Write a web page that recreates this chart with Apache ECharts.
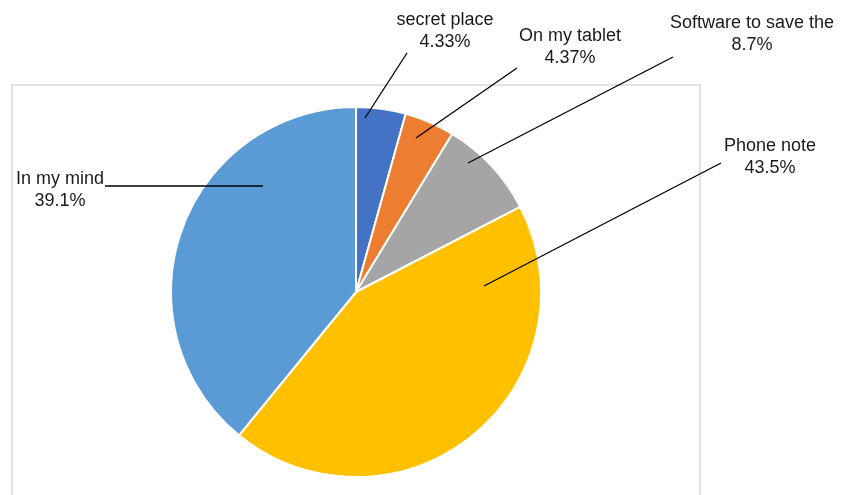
<!DOCTYPE html>
<html>
<head>
<meta charset="utf-8">
<script src="https://cdn.jsdelivr.net/npm/echarts@6/dist/echarts.min.js"></script>
<style>
  html, body { margin: 0; padding: 0; background: #fff; }
  #chart { width: 841px; height: 495px; }
</style>
</head>
<body>
<div id="chart"></div>
<script>
// 数据
var categories = ['secret place', 'On my tablet', 'Software to save the', 'Phone note', 'In my mind'];
var shares = [4.33, 4.37, 8.7, 43.5, 39.1];
var colors = ['#4472C4', '#ED7D31', '#A5A5A5', '#FFC000', '#5B9BD5'];

// 标签位置 (label center x/y) 和引导线端点
var labelPos = [[445, 31], [570, 47], [752, 34], [770, 157], [60, 190]];
var lineInner = [[365, 118], [416, 138], [468, 163], [484, 286], [263, 186]];
var lineOuter = [[407, 53], [517, 68], [673, 57], [721, 163], [105, 186]];

var myChart = echarts.init(document.getElementById('chart'));

var pieData = categories.map(function (name, i) {
    return { name: name, value: shares[i], itemStyle: { color: colors[i] } };
});
var labelData = categories.map(function (name, i) {
    return { name: name, value: shares[i] };
});

var option = {
    backgroundColor: '#fff',
    animation: false,
    graphic: [{
        type: 'rect',
        z: -10,
        shape: { x: 12, y: 85, width: 688, height: 430 },
        style: { fill: 'none', stroke: '#D9D9D9', lineWidth: 1.5 }
    }],
    series: [{
        // 扇区
        type: 'pie',
        z: 2,
        center: [356, 292],
        radius: 185,
        startAngle: 90,
        clockwise: true,
        itemStyle: { borderColor: '#fff', borderWidth: 2 },
        label: { show: false },
        labelLine: { show: false },
        emphasis: { disabled: true },
        data: pieData
    }, {
        // 标签 + 引导线 (画在扇区上面)
        type: 'pie',
        z: 5,
        silent: true,
        center: [356, 292],
        radius: 185,
        startAngle: 90,
        clockwise: true,
        avoidLabelOverlap: false,
        itemStyle: { color: 'rgba(0,0,0,0)', borderWidth: 0 },
        label: {
            show: true,
            position: 'outside',
            formatter: '{b}\n{c}%',
            fontFamily: 'Liberation Sans, Arial, sans-serif',
            fontSize: 18,
            lineHeight: 22,
            color: '#1a1a1a',
            align: 'center'
        },
        labelLine: {
            show: true,
            lineStyle: { color: '#000', width: 1.3 }
        },
        labelLayout: function (params) {
            var i = params.dataIndex;
            return {
                x: labelPos[i][0],
                y: labelPos[i][1],
                align: 'center',
                verticalAlign: 'middle',
                labelLinePoints: [lineInner[i], lineOuter[i], lineOuter[i]]
            };
        },
        emphasis: { disabled: true },
        data: labelData
    }]
};
myChart.setOption(option);
</script>
</body>
</html>
